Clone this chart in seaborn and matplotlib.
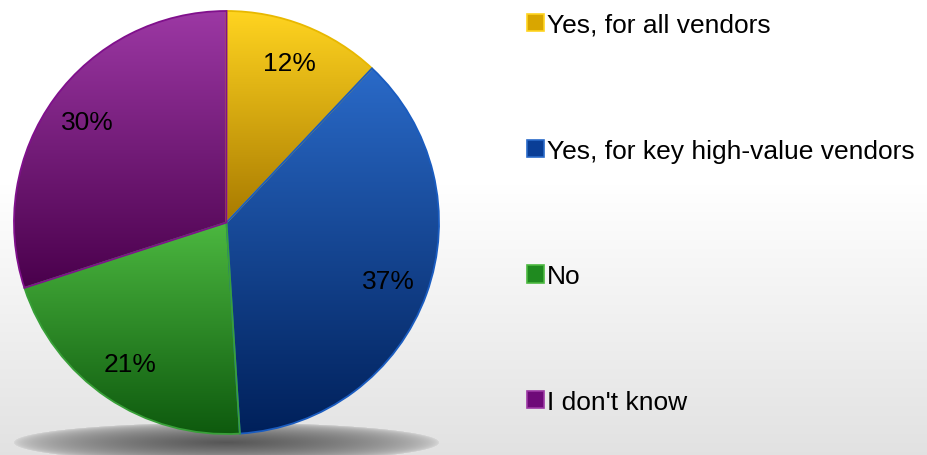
import numpy as np
import matplotlib
matplotlib.use("Agg")
import matplotlib.pyplot as plt
from matplotlib.colors import LinearSegmentedColormap
from matplotlib.patches import Rectangle
import seaborn as sns

categories = ["Yes, for all vendors", "Yes, for key high-value vendors", "No", "I don't know"]
values = [12, 37, 21, 30]
top_colors = ["#FFD420", "#2A6AC8", "#4CB840", "#9C38A4"]
bottom_colors = ["#A87A00", "#00205A", "#0E5A0E", "#4A004C"]
edge_colors = ["#E8B800", "#1A5CC0", "#38A038", "#80108C"]
legend_colors = ["#D9A600", "#0A3E96", "#1F8A1F", "#6E0A78"]

sns.set_theme(style="white")
plt.rcParams['font.family'] = ['Liberation Sans', 'DejaVu Sans']
plt.rcParams['text.color'] = 'black'

W, H = 927, 456
fig = plt.figure(figsize=(W / 100, H / 100), dpi=100)

# background: white top, light grey gradient at bottom, plus shadow ellipse
bg_ax = fig.add_axes([0, 0, 1, 1], zorder=-1)
yy, xx = np.mgrid[0:H, 0:W]
t = np.clip((yy - 185) / (H - 185), 0, 1)
g = 1.0 - t * (1.0 - 0.885)
img = np.dstack([g, g, g]).astype(float)
cx, cy, a, b = 226, 443, 213, 20
z = np.sqrt(((xx - cx) / a) ** 2 + ((yy - cy) / b) ** 2)
alpha = 0.85 * np.clip(1 - z, 0, 1) ** 0.45
shadow = 0.24
img = img * (1 - alpha[..., None]) + shadow * alpha[..., None]
bg_ax.imshow(img, extent=[0, W, H, 0], aspect='auto', interpolation='bilinear')
bg_ax.set_xlim(0, W)
bg_ax.set_ylim(H, 0)
bg_ax.axis('off')

# pie
ax = fig.add_axes([14 / W, 21 / H, 425 / W, 423 / H])
ax.set_facecolor('none')
wedges, texts, autotexts = ax.pie(
    values, startangle=90, counterclock=False, radius=1,
    autopct='%d%%', pctdistance=0.81,
    textprops=dict(fontsize=19, color='black'),
    wedgeprops=dict(linewidth=1.3))

for i, w in enumerate(wedges):
    w.set_facecolor('none')
    w.set_edgecolor(edge_colors[i])
    w.set_zorder(3)
    ext = w.get_path().get_extents()
    cmap = LinearSegmentedColormap.from_list(f"g{i}", [bottom_colors[i], top_colors[i]])
    grad = np.linspace(0, 1, 256).reshape(-1, 1)
    im = ax.imshow(grad, extent=[ext.x0, ext.x1, ext.y0, ext.y1], origin='lower',
                   cmap=cmap, aspect='auto', interpolation='bicubic', zorder=2)
    im.set_clip_path(w)

for tx in autotexts:
    tx.set_zorder(5)

ax.set_aspect('auto')
ax.set_xlim(-1, 1)
ax.set_ylim(-1, 1)
ax.axis('off')

# legend
handles = [Rectangle((0, 0), 1, 1, facecolor=legend_colors[i], edgecolor=top_colors[i], linewidth=1.2)
           for i in range(len(categories))]
fig.legend(handles, categories, loc='upper left', bbox_to_anchor=(527 / W, (H - 14) / H),
           frameon=False, fontsize=19, handlelength=0.64, handleheight=0.64,
           handletextpad=0.12, labelspacing=3.85, borderpad=0, borderaxespad=0,
           labelcolor='black')

fig.savefig("out.png", dpi=100)
